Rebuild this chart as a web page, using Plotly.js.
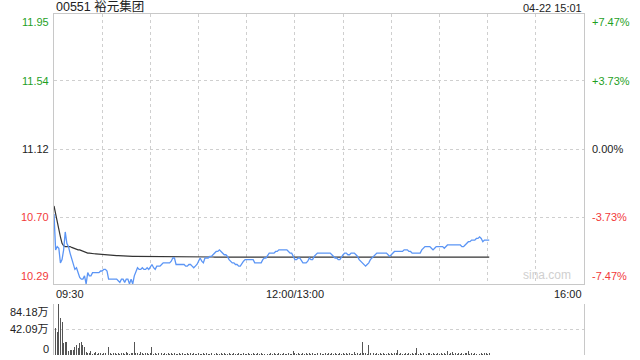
<!DOCTYPE html>
<html>
<head>
<meta charset="utf-8">
<script src="https://cdn.plot.ly/plotly-3.0.1.min.js"></script>
<style>html,body{margin:0;padding:0;background:#fff;}#chart{width:640px;height:360px;}</style>
</head>
<body>
<div id="chart"></div>
<script>
// ---- data ----
const stockTitle = "00551 裕元集团";
const stampText = "04-22 15:01";
const prevClose = 11.12;
const priceTicks = [11.95, 11.54, 11.12, 10.70, 10.29];
const pctTicks = ["+7.47%", "+3.73%", "0.00%", "-3.73%", "-7.47%"];
const volTicks = [84.18, 42.09, 0];
const volTickText = ["84.18万", "42.09万", "0"];
const timeTickVals = [0, 150, 330];
const timeTickText = ["09:30", "12:00/13:00", "16:00"];

const price = [
10.72,10.50,10.52,10.51,10.42,10.44,10.50,10.61,10.54,10.52,
10.48,10.45,10.42,10.38,10.39,10.36,10.33,10.32,10.32,10.34,
10.29,10.36,10.34,10.34,10.36,10.36,10.36,10.36,10.36,10.37,
10.37,10.38,10.38,10.37,10.32,10.32,10.32,10.32,10.32,10.32,
10.31,10.30,10.32,10.32,10.30,10.32,10.32,10.29,10.32,10.29,
10.34,10.37,10.39,10.38,10.38,10.39,10.38,10.38,10.39,10.38,
10.40,10.41,10.39,10.38,10.40,10.40,10.40,10.41,10.42,10.42,
10.42,10.42,10.42,10.43,10.45,10.45,10.41,10.41,10.41,10.41,
10.41,10.41,10.40,10.40,10.41,10.41,10.40,10.39,10.40,10.41,
10.43,10.45,10.43,10.42,10.45,10.45,10.45,10.46,10.46,10.47,
10.48,10.49,10.49,10.50,10.49,10.48,10.47,10.47,10.46,10.44,
10.43,10.42,10.42,10.41,10.41,10.40,10.40,10.42,10.43,10.44,
10.44,10.44,10.44,10.44,10.44,10.42,10.42,10.42,10.42,10.42,
10.44,10.45,10.45,10.47,10.48,10.48,10.48,10.48,10.49,10.49,
10.50,10.50,10.50,10.50,10.50,10.50,10.49,10.48,10.48,10.46,
10.44,10.44,10.45,10.45,10.43,10.42,10.42,10.42,10.43,10.45,
10.44,10.44,10.46,10.47,10.48,10.48,10.48,10.48,10.48,10.48,
10.48,10.48,10.48,10.47,10.46,10.45,10.45,10.44,10.44,10.46,
10.47,10.48,10.48,10.47,10.47,10.48,10.48,10.48,10.47,10.46,
10.44,10.43,10.42,10.41,10.40,10.41,10.42,10.44,10.45,10.46,
10.47,10.48,10.48,10.48,10.48,10.48,10.48,10.48,10.47,10.46,
10.47,10.48,10.49,10.49,10.49,10.49,10.49,10.49,10.50,10.50,
10.50,10.49,10.49,10.48,10.48,10.48,10.48,10.48,10.48,10.50,
10.51,10.52,10.52,10.52,10.52,10.51,10.50,10.51,10.52,10.52,
10.52,10.52,10.52,10.51,10.52,10.53,10.53,10.53,10.53,10.53,
10.53,10.53,10.53,10.53,10.52,10.52,10.53,10.54,10.55,10.55,
10.56,10.56,10.56,10.57,10.57,10.58,10.57,10.55,10.56,10.56,
10.56,10.56
];

const avgPrice = [
10.77,10.72,10.66,10.61,10.58,10.54,10.525,10.52,10.52,10.52,
10.52,10.515,10.51,10.51,10.505,10.50,10.50,10.495,10.49,10.485,
10.48,10.48,10.48,10.48,10.478,10.476,10.475,10.474,10.473,10.472,
10.471,10.47,10.47,10.47,10.469,10.468,10.467,10.466,10.466,10.465,
10.465,10.464,10.464,10.463,10.463,10.462,10.462,10.461,10.461,10.46,
10.46,10.46,10.46,10.46,10.46,10.46,10.46,10.46,10.46,10.46,
10.459,10.459,10.459,10.459,10.459,10.459,10.459,10.459,10.459,10.459,
10.458,10.458,10.458,10.458,10.458,10.458,10.458,10.458,10.458,10.458,
10.457,10.457,10.457,10.457,10.457,10.457,10.457,10.457,10.457,10.457,
10.456,10.456,10.456,10.456,10.456,10.456,10.456,10.456,10.456,10.456,
10.455,10.455,10.455,10.455,10.455,10.455,10.455,10.455,10.455,10.455,
10.455,10.455,10.455,10.455,10.455,10.455,10.455,10.455,10.455,10.455,
10.455,10.455,10.455,10.455,10.455,10.455,10.455,10.455,10.455,10.455,
10.455,10.455,10.455,10.455,10.455,10.455,10.455,10.455,10.455,10.455,
10.455,10.455,10.455,10.455,10.455,10.455,10.455,10.455,10.455,10.455,
10.454,10.454,10.454,10.454,10.454,10.454,10.454,10.454,10.454,10.454,
10.454,10.454,10.454,10.454,10.454,10.454,10.454,10.454,10.454,10.454,
10.454,10.454,10.454,10.454,10.454,10.454,10.454,10.454,10.454,10.454,
10.454,10.454,10.454,10.454,10.454,10.454,10.454,10.454,10.454,10.454,
10.454,10.454,10.454,10.454,10.454,10.454,10.454,10.454,10.454,10.454,
10.454,10.454,10.454,10.454,10.454,10.454,10.454,10.454,10.454,10.454,
10.454,10.454,10.454,10.454,10.454,10.454,10.454,10.454,10.454,10.454,
10.454,10.454,10.454,10.454,10.454,10.454,10.454,10.454,10.454,10.454,
10.455,10.455,10.455,10.455,10.455,10.455,10.455,10.455,10.455,10.455,
10.455,10.455,10.455,10.455,10.455,10.455,10.455,10.455,10.455,10.455,
10.455,10.455,10.455,10.455,10.455,10.455,10.455,10.455,10.455,10.455,
10.455,10.455,10.455,10.455,10.455,10.455,10.455,10.455,10.455,10.455,
10.455,10.455
];

const volume = [
32,44,38,84.18,61,55,20,22,21,7,
8,9,9,13,16,12,20,21,17,13,
5,4,3,6,2,3,5,2,3,4,
2,3,3,5,14,3,2,4,3,2,
3,2,4,3,2,5,3,2,4,3,
21,4,3,2,5,3,2,3,4,2,
3,13,2,3,2,4,2,3,2,3,
2,3,2,4,2,3,2,2,3,2,
3,2,2,3,2,4,2,3,2,2,
3,2,2,4,2,3,2,2,3,2,
2,3,2,2,4,2,3,2,2,3,
2,2,3,2,2,4,2,2,3,2,
2,3,2,2,3,2,2,4,2,3,
2,2,3,2,2,3,2,4,2,2,
3,2,2,3,2,2,3,2,2,7,
3,2,3,2,2,3,2,4,2,3,
2,3,2,2,4,2,3,2,2,3,
2,3,2,4,2,3,2,2,3,2,
3,2,4,2,3,2,2,5,2,3,
2,3,21,4,3,2,17,3,2,3,
2,3,2,4,2,3,2,2,3,2,
3,2,4,3,9,2,3,2,2,3,
2,3,2,4,2,3,12,2,3,2,
3,2,2,3,4,2,3,2,2,3,
2,4,2,3,2,6,2,3,5,2,
3,2,4,2,3,2,3,3,7,2,
3,2,4,2,3,2,3,2,4,3,
2,3
];

// ---- drawing ----
const minuteIdx = price.map((_, i) => i);
const FONT = '"Liberation Sans", Arial, "Noto Sans CJK SC", sans-serif';
const GREEN = '#1f9f1f', RED = '#f23a3a', DARK = '#222';
const GRID = '#cfcfcf', FRAME = '#c8c8c8';

const traces = [
  {x: minuteIdx, y: avgPrice, type: 'scatter', mode: 'lines', xaxis: 'x', yaxis: 'y',
   line: {color: '#333333', width: 1.2}, hoverinfo: 'skip'},
  {x: minuteIdx, y: price, type: 'scatter', mode: 'lines', xaxis: 'x', yaxis: 'y',
   line: {color: '#5b95f5', width: 1.3}, hoverinfo: 'skip'},
  {x: minuteIdx, y: volume, type: 'bar', xaxis: 'x2', yaxis: 'y2',
   marker: {color: '#555555', line: {width: 0}}, width: 0.6, hoverinfo: 'skip'}
];

function tickColor(v) { return v > prevClose + 1e-9 ? GREEN : (v < prevClose - 1e-9 ? RED : DARK); }
function anchorFor(i, n) { return i === 0 ? 'top' : (i === n - 1 ? 'bottom' : 'middle'); }

const annotations = [];
priceTicks.forEach((v, i) => {
  const ya = anchorFor(i, priceTicks.length);
  annotations.push({xref: 'paper', yref: 'y', x: -0.006, y: v, xanchor: 'right', yanchor: ya,
    text: v.toFixed(2), showarrow: false, font: {family: FONT, size: 11, color: tickColor(v)}, borderpad: 1});
  annotations.push({xref: 'paper', yref: 'y', x: 1.011, y: v, xanchor: 'left', yanchor: ya,
    text: pctTicks[i], showarrow: false, font: {family: FONT, size: 11, color: tickColor(v)}, borderpad: 1});
});
volTicks.forEach((v, i) => {
  annotations.push({xref: 'paper', yref: 'y2', x: -0.006, y: v, xanchor: 'right', yanchor: anchorFor(i, volTicks.length),
    yshift: i === volTicks.length - 1 ? -2 : 0,
    text: volTickText[i], showarrow: false, font: {family: FONT, size: 11, color: DARK}, borderpad: 1});
});
const tAnch = ['left', 'center', 'right'];
timeTickVals.forEach((v, i) => {
  annotations.push({xref: 'x', yref: 'y', x: v, y: priceTicks[priceTicks.length - 1], xanchor: tAnch[i], yanchor: 'top',
    yshift: -2, text: timeTickText[i], showarrow: false, font: {family: FONT, size: 11, color: DARK}, borderpad: 1});
});
annotations.push({xref: 'x', yref: 'paper', x: 0, y: 1, xanchor: 'left', yanchor: 'bottom', yshift: -2,
  text: stockTitle, showarrow: false, font: {family: FONT, size: 12.5, color: DARK}, borderpad: 1});
annotations.push({xref: 'x', yref: 'paper', x: 330, y: 1, xanchor: 'right', yanchor: 'bottom', yshift: -2,
  text: stampText, showarrow: false, font: {family: FONT, size: 11, color: DARK}, borderpad: 1});
annotations.push({xref: 'x', yref: 'y', x: 323, y: priceTicks[priceTicks.length - 1], xanchor: 'right', yanchor: 'bottom',
  yshift: 0, text: 'sina.com', showarrow: false, font: {family: FONT, size: 12, color: '#d0d0d0'}, borderpad: 1});

const layout = {
  width: 640, height: 360,
  margin: {l: 54, r: 56, t: 14, b: 5, pad: 0},
  paper_bgcolor: '#ffffff', plot_bgcolor: '#ffffff',
  showlegend: false, bargap: 0,
  xaxis: {domain: [0, 1], range: [0, 330], anchor: 'y', tickmode: 'linear', tick0: 0, dtick: 30,
    showgrid: true, gridcolor: GRID, griddash: 'dot', gridwidth: 1, showticklabels: false, ticks: '',
    showline: true, linecolor: FRAME, linewidth: 1, mirror: true, zeroline: false, fixedrange: true},
  yaxis: {domain: [0.2082, 1], range: [priceTicks[priceTicks.length - 1], priceTicks[0]], anchor: 'x',
    tickmode: 'array', tickvals: priceTicks.slice(1, -1), showgrid: true, gridcolor: GRID, griddash: 'dot',
    showticklabels: false, ticks: '', showline: true, linecolor: FRAME, linewidth: 1, mirror: true, zeroline: false},
  xaxis2: {domain: [0, 1], range: [0, 330], anchor: 'y2', showgrid: false, showticklabels: false, ticks: '',
    showline: false, zeroline: false},
  yaxis2: {domain: [0, 0.1496], range: [0, volTicks[0]], anchor: 'x2', tickmode: 'array', tickvals: volTicks.slice(0, 2),
    showgrid: true, gridcolor: GRID, griddash: 'dot', showticklabels: false, ticks: '',
    showline: true, linecolor: FRAME, linewidth: 1, mirror: true, zeroline: false},
  annotations: annotations
};

Plotly.newPlot('chart', traces, layout, {staticPlot: true, displayModeBar: false});
</script>
</body>
</html>
